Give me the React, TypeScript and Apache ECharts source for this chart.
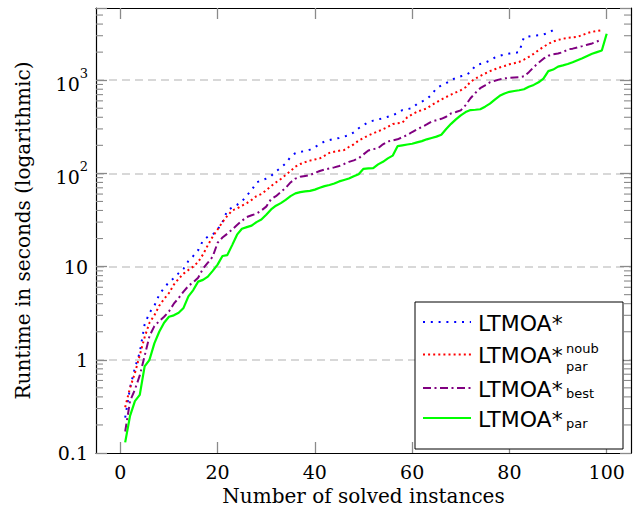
import React, { useEffect, useRef } from "react";
import * as echarts from "echarts";

// ---- data ----
const ltmoa: number[] = [
  0.24, 0.5, 0.82, 1.2, 2.4, 3.2, 3.8, 5.0, 5.9, 6.8,
  7.5, 8.5, 9.5, 11.5, 13, 15, 19, 21, 22, 25,
  30, 40, 43, 46, 50, 58, 66, 80, 84, 88,
  94, 105, 115, 128, 150, 165, 170, 174, 180, 192,
  205, 220, 228, 235, 240, 248, 257, 275, 305, 330,
  355, 368, 380, 390, 405, 420, 445, 478, 490, 500,
  555, 590, 625, 700, 820, 880, 930, 1000, 1060, 1100,
  1130, 1220, 1430, 1490, 1540, 1630, 1750, 1830, 1890, 1930,
  1960, 2000, 2900, 2950, 3000, 3030, 3100, 3200, 3450,
];
const ltmoaNoubPar: number[] = [
  0.31, 0.5, 0.72, 1.12, 1.75, 2.5, 3.0, 3.8, 4.5, 5.2,
  6.4, 7.4, 8.4, 9.2, 10, 11.2, 13.5, 17, 21, 25,
  30, 35, 40, 42, 45, 48, 52, 57, 60, 66,
  73, 80, 87, 96, 106, 118, 126, 132, 137, 141,
  145, 155, 166, 171, 175, 178, 192, 205, 225, 240,
  255, 269, 282, 298, 315, 338, 345, 350, 400, 430,
  458, 478, 498, 540, 580, 620, 660, 700, 740, 780,
  840, 960, 1040, 1110, 1180, 1250, 1310, 1370, 1420, 1480,
  1520, 1570, 1660, 1780, 1920, 2100, 2280, 2450, 2600, 2700,
  2780, 2850, 2880, 2920, 3050, 3200, 3300, 3380, 3440,
];
const ltmoaBest: number[] = [
  0.17, 0.36, 0.48, 0.68, 1.1, 1.8, 2.3, 2.6, 2.9, 3.3,
  4.0, 4.6, 5.4, 6.2, 6.8, 7.6, 9.5, 11, 12.8, 18,
  20.5, 22.5, 25, 28, 31, 34, 35.5, 37, 40, 44,
  53, 57, 63, 70, 80, 88, 92, 94, 96, 101,
  106, 110, 113, 116, 120, 126, 133, 138, 145, 160,
  176, 182, 186, 205, 220, 226, 232, 245, 258, 278,
  297, 315, 335, 360, 372, 385, 405, 440, 455, 475,
  540, 640, 730, 820, 880, 950, 985, 1020, 1045, 1060,
  1070, 1080, 1100, 1220, 1380, 1540, 1700, 1830, 1900, 1930,
  2000, 2140, 2180, 2250, 2320, 2400, 2480, 2600, 2740,
];
const ltmoaPar: number[] = [
  0.13, 0.25, 0.36, 0.42, 0.85, 1.0, 1.5, 2.0, 2.5, 2.9,
  3.0, 3.2, 3.6, 4.8, 5.6, 6.9, 7.2, 7.8, 9.0, 10.5,
  13, 13.3, 17, 22, 25.5, 26.5, 27.5, 30, 32, 36,
  41, 45, 48, 52, 57, 61, 63, 64, 65, 67,
  70, 73, 75, 78, 82, 85, 88, 93, 98, 112,
  113, 114, 125, 133, 145, 155, 196, 200, 204, 208,
  215, 222, 232, 240, 248, 260, 300, 340, 380, 420,
  455, 478, 482, 488, 520, 560, 620, 680, 720, 750,
  765, 780, 800, 850, 890, 950, 1040, 1250, 1300, 1400,
  1440, 1490, 1560, 1640, 1720, 1820, 1920, 2000, 2080, 3150,
];

const xTickValues = [0, 20, 40, 60, 80, 100];
const yDecades = [0.1, 1, 10, 100, 1000];
const yMinorMultipliers = [2, 3, 4, 5, 6, 7, 8, 9];
const X_MIN = -5;
const X_MAX = 105;
const Y_MIN = 0.1;
const Y_MAX = 5950;

const toPairs = (arr: number[]) => arr.map((v, i) => [i + 1, v]);

const SERIF = '"DejaVu Serif"';
const SANS = '"DejaVu Sans"';

export default function App() {
  const ref = useRef<HTMLDivElement>(null);
  useEffect(() => {
    if (!ref.current) return;
    const chart = echarts.init(ref.current, undefined, { renderer: "svg" });

    const minorTicks: number[][] = [];
    yDecades.forEach((d) =>
      yMinorMultipliers.forEach((k) => {
        const v = +(k * d).toPrecision(6);
        if (v < Y_MAX) minorTicks.push([0, v]);
      })
    );

    const yLabel = (value: number) => {
      const l = Math.log10(value);
      const r = Math.round(l);
      if (Math.abs(l - r) > 1e-6) return "";
      if (r === -1) return "0.1";
      if (r === 0) return "1";
      if (r === 1) return "10";
      return `{b|10}{s|${r}}`;
    };

    const tickStyle = { color: "#8a8a8a", width: 1.3 };

    const lineSeries = (
      name: string,
      data: number[],
      color: string,
      type: any,
      width: number
    ) => ({
      name,
      type: "line",
      data: toPairs(data),
      showSymbol: false,
      symbol: "none",
      xAxisIndex: 0,
      yAxisIndex: 0,
      lineStyle: { color, type, width, cap: "butt" },
      itemStyle: { color },
      z: 3,
    });

    const legendY = [322, 354.5, 388, 418];
    const legendColors = ["#0000ff", "#ff0000", "#800080", "#00ff00"];
    const legendDash: any[] = [[2, 5.8], [2, 3.1], [8, 3.5, 2, 3.5], null];
    const mainFont = `22px ${SANS}`;
    const subFont = `13px ${SANS}`;

    const graphic: any[] = [
      {
        type: "rect",
        shape: { x: 415, y: 302, width: 208, height: 147 },
        style: { fill: "#ffffff", stroke: "#000000", lineWidth: 1 },
        z: 100,
      },
    ];
    legendY.forEach((y, i) => {
      graphic.push({
        type: "line",
        shape: { x1: 423, y1: y, x2: 471, y2: y },
        style: {
          stroke: legendColors[i],
          lineWidth: i === 3 ? 2.2 : 2,
          lineDash: legendDash[i] || undefined,
        },
        z: 101,
      });
      graphic.push({
        type: "text",
        x: 478,
        y: y + 1,
        style: {
          text: "LTMOA*",
          font: mainFont,
          fill: "#000",
          align: "left",
          verticalAlign: "middle",
        },
        z: 101,
      });
    });
    const scripts = [
      { t: "noub", y: 348 },
      { t: "par", y: 366 },
      { t: "best", y: 393 },
      { t: "par", y: 423 },
    ];
    scripts.forEach((s) =>
      graphic.push({
        type: "text",
        x: 566,
        y: s.y,
        style: {
          text: s.t,
          font: subFont,
          fill: "#000",
          align: "left",
          verticalAlign: "middle",
        },
        z: 101,
      })
    );

    chart.setOption({
      animation: false,
      backgroundColor: "#ffffff",
      grid: { left: 96, right: 8, top: 8, bottom: 59, containLabel: false },
      xAxis: [
        {
          type: "value",
          min: X_MIN,
          max: X_MAX,
          position: "bottom",
          name: "Number of solved instances",
          nameLocation: "middle",
          nameGap: 32,
          nameTextStyle: { fontFamily: SERIF, fontSize: 20, color: "#000" },
          axisLine: { show: true, onZero: false, lineStyle: { color: "#000", width: 1.2 } },
          axisTick: { show: true, inside: true, length: 11, customValues: xTickValues, lineStyle: tickStyle },
          axisLabel: { customValues: xTickValues, margin: 9, fontFamily: SERIF, fontSize: 19, color: "#000" },
          splitLine: { show: false },
        },
        {
          type: "value",
          min: X_MIN,
          max: X_MAX,
          position: "top",
          axisLine: { show: true, onZero: false, lineStyle: { color: "#000", width: 1.2 } },
          axisTick: { show: true, inside: true, length: 11, customValues: xTickValues, lineStyle: tickStyle },
          axisLabel: { show: false },
          splitLine: { show: false },
        },
      ],
      yAxis: [
        {
          type: "log",
          logBase: 10,
          min: Y_MIN,
          max: Y_MAX,
          position: "left",
          name: "Runtime in seconds (logarithmic)",
          nameLocation: "middle",
          nameGap: 63,
          nameRotate: 90,
          nameTextStyle: { fontFamily: SERIF, fontSize: 20, color: "#000" },
          axisLine: { show: true, onZero: false, lineStyle: { color: "#000", width: 1.2 } },
          axisTick: { show: true, inside: true, length: 11, lineStyle: tickStyle },
          axisLabel: {
            formatter: yLabel,
            margin: 8,
            fontFamily: SERIF,
            fontSize: 19,
            color: "#000",
            rich: {
              b: { fontFamily: SERIF, fontSize: 19, color: "#000", lineHeight: 26, verticalAlign: "bottom" },
              s: { fontFamily: SERIF, fontSize: 13, color: "#000", lineHeight: 26, verticalAlign: "top" },
            },
          },
          splitLine: {
            show: true,
            showMinLine: false,
            showMaxLine: false,
            lineStyle: { color: "#cccccc", type: [8, 5], width: 1.5 },
          },
        },
        {
          type: "log",
          logBase: 10,
          min: Y_MIN,
          max: Y_MAX,
          position: "right",
          axisLine: { show: true, onZero: false, lineStyle: { color: "#000", width: 1.2 } },
          axisTick: { show: true, inside: true, length: 11, lineStyle: tickStyle },
          axisLabel: { show: false },
          splitLine: { show: false },
        },
      ],
      series: [
        {
          name: "minor ticks",
          type: "custom",
          xAxisIndex: 0,
          yAxisIndex: 0,
          data: minorTicks,
          silent: true,
          z: 1,
          renderItem: (params: any, api: any) => {
            const pt = api.coord([0, api.value(1)]);
            const cs = params.coordSys;
            const st = { stroke: "#8a8a8a", lineWidth: 1.1 };
            return {
              type: "group",
              children: [
                { type: "line", shape: { x1: cs.x, y1: pt[1], x2: cs.x + 7, y2: pt[1] }, style: st },
                { type: "line", shape: { x1: cs.x + cs.width - 7, y1: pt[1], x2: cs.x + cs.width, y2: pt[1] }, style: st },
              ],
            };
          },
        },
        lineSeries("LTMOA*", ltmoa, "#0000ff", [2, 5.8], 2),
        lineSeries("LTMOA*noub par", ltmoaNoubPar, "#ff0000", [2, 3.1], 2),
        lineSeries("LTMOA*best", ltmoaBest, "#800080", [8, 3.5, 2, 3.5], 2),
        lineSeries("LTMOA*par", ltmoaPar, "#00ff00", "solid", 2.2),
      ],
      legend: { show: false },
      graphic,
    });
    return () => chart.dispose();
  }, []);
  return (
    <div
      ref={ref}
      style={{ position: "fixed", left: 0, top: 0, width: 639, height: 512, background: "#fff" }}
    />
  );
}
